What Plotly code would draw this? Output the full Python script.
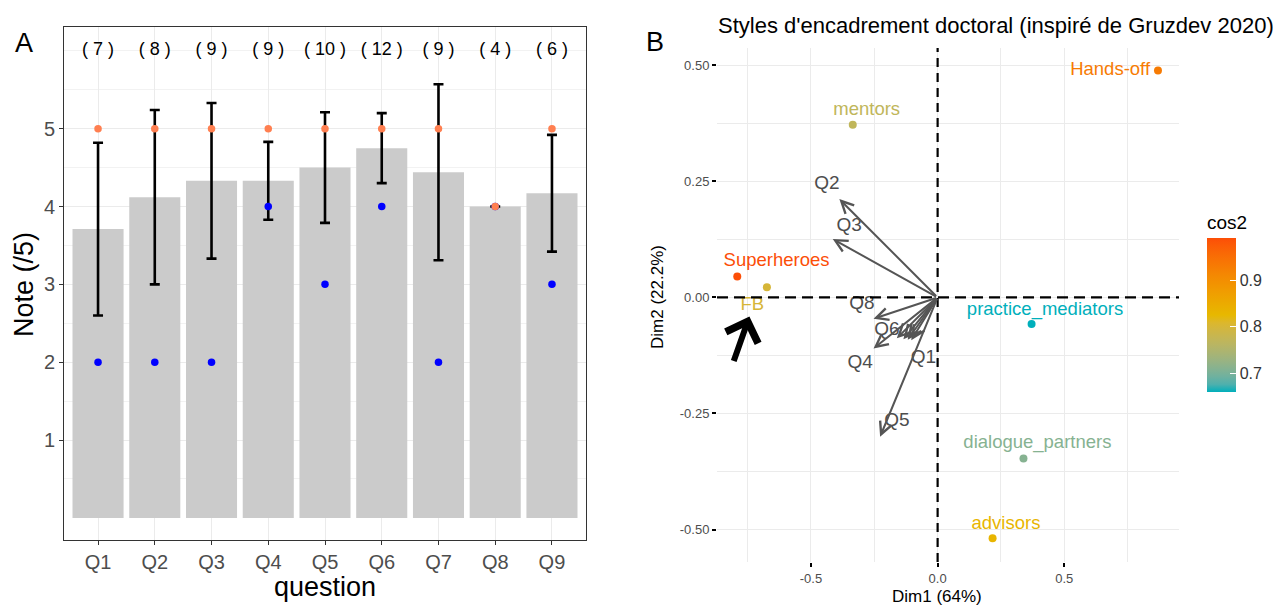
import plotly.graph_objects as go
from plotly.colors import sample_colorscale

# ---------------- Panel A data ----------------
questions = ["Q1", "Q2", "Q3", "Q4", "Q5", "Q6", "Q7", "Q8", "Q9"]
mean_score = [3.71, 4.12, 4.33, 4.33, 4.50, 4.75, 4.44, 4.00, 4.17]
sd_score = [1.11, 1.12, 1.00, 0.50, 0.71, 0.45, 1.13, 0.00, 0.75]
max_score = [5, 5, 5, 5, 5, 5, 5, 4, 5]
min_score = [2, 2, 2, 4, 3, 4, 2, 4, 3]
n_resp = [7, 8, 9, 9, 10, 12, 9, 4, 6]
count_level = 6.0

# ---------------- Panel B data ----------------
styles = ["Hands-off", "mentors", "Superheroes", "FB",
          "practice_mediators", "dialogue_partners", "advisors"]
style_dim1 = [0.870, -0.335, -0.791, -0.674, 0.371, 0.339, 0.217]
style_dim2 = [0.489, 0.372, 0.045, 0.022, -0.057, -0.347, -0.519]
style_cos2 = [0.93, 0.77, 0.99, 0.80, 0.66, 0.71, 0.83]
style_lab_dim1 = [0.681, -0.280, -0.636, -0.732, 0.424, 0.394, 0.270]
style_lab_dim2 = [0.489, 0.404, 0.078, -0.016, -0.027, -0.314, -0.488]

var_names = ["Q1", "Q2", "Q3", "Q4", "Q5", "Q6", "Q7", "Q8", "Q9"]
var_dim1 = [-0.104, -0.388, -0.414, -0.253, -0.227, -0.161, -0.135, -0.253, -0.118]
var_dim2 = [-0.092, 0.212, 0.126, -0.110, -0.300, -0.088, -0.090, -0.046, -0.091]
var_lab_dim1 = [-0.056, -0.437, -0.349, -0.306, -0.161, -0.200, None, -0.299, None]
var_lab_dim2 = [-0.131, 0.243, 0.153, -0.141, -0.267, -0.070, None, -0.014, None]

pointer_tail = (-0.807, -0.140)
pointer_tip = (-0.743, -0.041)

cos2_min, cos2_max = 0.66, 0.99
gradient_cols = ["#00AFBB", "#E7B800", "#FC4E07"]

W, H = 1273, 606
FONT = "Liberation Sans"


# ---- CIELAB colour ramp (like ggplot's gradient_n_pal) ----
def _hex_to_lab(h):
    rgb = [int(h[i:i + 2], 16) / 255 for i in (1, 3, 5)]
    lin = [c / 12.92 if c <= 0.04045 else ((c + 0.055) / 1.055) ** 2.4 for c in rgb]
    X = 0.4124 * lin[0] + 0.3576 * lin[1] + 0.1805 * lin[2]
    Y = 0.2126 * lin[0] + 0.7152 * lin[1] + 0.0722 * lin[2]
    Z = 0.0193 * lin[0] + 0.1192 * lin[1] + 0.9505 * lin[2]
    Xn, Yn, Zn = 0.95047, 1.0, 1.08883

    def f(t):
        return t ** (1 / 3) if t > 0.008856 else 7.787 * t + 16 / 116
    fx, fy, fz = f(X / Xn), f(Y / Yn), f(Z / Zn)
    return (116 * fy - 16, 500 * (fx - fy), 200 * (fy - fz))


def _lab_to_rgb(L, a, b):
    fy = (L + 16) / 116
    fx = fy + a / 500
    fz = fy - b / 200

    def finv(t):
        return t ** 3 if t ** 3 > 0.008856 else (t - 16 / 116) / 7.787
    X, Y, Z = 0.95047 * finv(fx), finv(fy), 1.08883 * finv(fz)
    r = 3.2406 * X - 1.5372 * Y - 0.4986 * Z
    g = -0.9689 * X + 1.8758 * Y + 0.0415 * Z
    bb = 0.0557 * X - 0.2040 * Y + 1.0570 * Z
    out = []
    for c in (r, g, bb):
        c = 12.92 * c if c <= 0.0031308 else 1.055 * c ** (1 / 2.4) - 0.055
        out.append(int(round(min(1, max(0, c)) * 255)))
    return "rgb(%d,%d,%d)" % tuple(out)


def lab_ramp(cols, n=21):
    labs = [_hex_to_lab(c) for c in cols]
    scale = []
    for i in range(n):
        t = i / (n - 1)
        pos = t * (len(labs) - 1)
        k = min(int(pos), len(labs) - 2)
        u = pos - k
        L = [labs[k][j] + (labs[k + 1][j] - labs[k][j]) * u for j in range(3)]
        scale.append([t, _lab_to_rgb(*L)])
    return scale


cos2_scale = lab_ramp(gradient_cols)


def px_x(p):
    return p / W


def px_y(p):
    return 1 - p / H


fig = go.Figure()

# ---- Panel A traces ----
fig.add_trace(go.Bar(
    x=questions, y=mean_score, width=0.9,
    marker=dict(color="#CBCBCB", line=dict(width=0)),
    xaxis="x", yaxis="y", showlegend=False, hoverinfo="skip"))
fig.add_trace(go.Scatter(
    x=questions, y=mean_score, mode="markers",
    marker=dict(size=1, color="rgba(0,0,0,0)"),
    error_y=dict(type="data", array=sd_score, visible=True,
                 color="black", thickness=2.6, width=5),
    xaxis="x", yaxis="y", showlegend=False, hoverinfo="skip"))
fig.add_trace(go.Scatter(
    x=questions, y=min_score, mode="markers",
    marker=dict(size=7.5, color="blue"),
    xaxis="x", yaxis="y", showlegend=False))
fig.add_trace(go.Scatter(
    x=questions, y=max_score, mode="markers",
    marker=dict(size=7.5, color="coral"),
    xaxis="x", yaxis="y", showlegend=False))
fig.add_trace(go.Scatter(
    x=questions, y=[count_level] * len(questions), mode="text",
    text=["( %d )" % n for n in n_resp],
    textfont=dict(family=FONT, size=18, color="black"),
    xaxis="x", yaxis="y", showlegend=False, hoverinfo="skip"))

# ---- Panel B traces ----
fracs = [(c - cos2_min) / (cos2_max - cos2_min) for c in style_cos2]
fracs = [min(1, max(0, f)) for f in fracs]
style_colors = sample_colorscale(cos2_scale, fracs)

fig.add_trace(go.Scatter(
    x=style_dim1, y=style_dim2, mode="markers",
    marker=dict(size=8, color=style_cos2, colorscale=cos2_scale,
                cmin=cos2_min, cmax=cos2_max, showscale=True,
                colorbar=dict(
                    x=px_x(1207), xanchor="left", xpad=0,
                    y=px_y(392), yanchor="bottom", ypad=0,
                    len=(392 - 212) / H, lenmode="fraction",
                    thickness=29, outlinewidth=0,
                    ticks="inside", ticklen=6, tickcolor="white", tickwidth=1,
                    tickvals=[0.7, 0.8, 0.9], ticktext=["0.7", "0.8", "0.9"],
                    tickfont=dict(family=FONT, size=16, color="#333333"),
                    title=dict(text="cos2", side="top",
                               font=dict(family=FONT, size=19, color="black")))),
    xaxis="x2", yaxis="y2", showlegend=False))
fig.add_trace(go.Scatter(
    x=style_lab_dim1, y=style_lab_dim2, mode="text", text=styles,
    textfont=dict(family=FONT, size=18.5, color=style_colors),
    xaxis="x2", yaxis="y2", showlegend=False, hoverinfo="skip"))
vl_x = [x for x in var_lab_dim1 if x is not None]
vl_y = [y for y in var_lab_dim2 if y is not None]
vl_t = [n for n, t in zip(var_names, var_lab_dim1) if t is not None]
fig.add_trace(go.Scatter(
    x=vl_x, y=vl_y, mode="text", text=vl_t,
    textfont=dict(family=FONT, size=19, color="#4D4D4D"),
    xaxis="x2", yaxis="y2", showlegend=False, hoverinfo="skip"))

annotations = []
for vx, vy in zip(var_dim1, var_dim2):
    annotations.append(dict(
        x=vx, y=vy, ax=0, ay=0, xref="x2", yref="y2", axref="x2", ayref="y2",
        text="", showarrow=True, arrowhead=5, arrowsize=1.2, arrowwidth=2,
        arrowcolor="#555555", standoff=0))
annotations.append(dict(
    x=pointer_tip[0], y=pointer_tip[1], ax=pointer_tail[0], ay=pointer_tail[1],
    xref="x2", yref="y2", axref="x2", ayref="y2",
    text="", showarrow=True, arrowhead=4, arrowsize=1.1, arrowwidth=6,
    arrowcolor="black", standoff=0))


def label(text, x, y, size, angle=0, xanchor="center", color="black"):
    return dict(text=text, x=px_x(x), y=px_y(y), xref="paper", yref="paper",
                xanchor=xanchor, yanchor="middle", textangle=angle,
                showarrow=False, font=dict(family=FONT, size=size, color=color))


annotations += [
    label("A", 24, 43, 27),
    label("B", 655, 42, 27),
    label("Styles d'encadrement doctoral (inspiré de Gruzdev 2020)", 716, 26, 22,
          xanchor="left"),
    label("question", 325, 587, 27),
    label("Note (/5)", 24, 285, 27, angle=-90),
    label("Dim1 (64%)", 937, 596, 17),
    label("Dim2 (22.2%)", 657, 297, 17, angle=-90),
]

shapes = [
    dict(type="line", xref="x2", yref="y2 domain", x0=0, x1=0, y0=0, y1=1,
         line=dict(color="black", width=2.2, dash="9px,6px"), layer="above"),
    dict(type="line", xref="x2 domain", yref="y2", x0=0, x1=1, y0=0, y1=0,
         line=dict(color="black", width=2.2, dash="11px,6px"), layer="above"),
]

grid = "#EBEBEB"
fig.update_layout(
    width=W, height=H, margin=dict(l=0, r=0, t=0, b=0, pad=0, autoexpand=False),
    paper_bgcolor="white", plot_bgcolor="white",
    font=dict(family=FONT),
    annotations=annotations, shapes=shapes,
    xaxis=dict(domain=[px_x(64), px_x(586)], range=[-0.6, 8.6], automargin=False,
               type="category", showgrid=True, gridcolor=grid, gridwidth=1,
               showline=True, mirror=True, linecolor="#333333", linewidth=1,
               ticks="outside", ticklen=4, tickcolor="#333333",
               tickfont=dict(family=FONT, size=20, color="#4D4D4D"),
               zeroline=False, anchor="y"),
    yaxis=dict(domain=[px_y(540), px_y(27)], range=[-0.284, 6.306], automargin=False,
               tickvals=[1, 2, 3, 4, 5], showgrid=True, gridcolor=grid, gridwidth=1,
               minor=dict(tickvals=[0.5, 1.5, 2.5, 3.5, 4.5, 5.5, 6.0],
                          showgrid=True, gridcolor="#F2F2F2", gridwidth=1, ticks=""),
               showline=True, mirror=True, linecolor="#333333", linewidth=1,
               ticks="outside", ticklen=4, tickcolor="#333333",
               tickfont=dict(family=FONT, size=20, color="#4D4D4D"),
               zeroline=False, anchor="x"),
    xaxis2=dict(domain=[px_x(717), px_x(1179)], range=[-0.871, 0.953], automargin=False,
                tickvals=[-0.5, 0.0, 0.5], ticktext=["-0.5", "0.0", "0.5"],
                showgrid=True, gridcolor=grid, gridwidth=1.3,
                minor=dict(tickvals=[-0.75, -0.25, 0.25, 0.75], showgrid=True,
                           gridcolor=grid, gridwidth=0.8, ticks=""),
                ticks="outside", ticklen=4, tickwidth=2, tickcolor="black",
                tickfont=dict(family=FONT, size=13, color="#4D4D4D"),
                zeroline=False, showline=False, anchor="y2"),
    yaxis2=dict(domain=[px_y(562), px_y(48)], range=[-0.570, 0.5375], automargin=False,
                tickvals=[-0.5, -0.25, 0.0, 0.25, 0.5],
                ticktext=["-0.50", "-0.25", "0.00", "0.25", "0.50"],
                showgrid=True, gridcolor=grid, gridwidth=1.3,
                minor=dict(tickvals=[-0.375, -0.125, 0.125, 0.375], showgrid=True,
                           gridcolor=grid, gridwidth=0.8, ticks=""),
                ticks="outside", ticklen=4, tickwidth=2, tickcolor="black",
                tickfont=dict(family=FONT, size=13, color="#4D4D4D"),
                zeroline=False, showline=False, anchor="x2"),
)

fig.write_html("out.html", config={"displayModeBar": False},
               post_script="document.body.style.margin='0px';"
                           "document.body.style.overflow='hidden';")
